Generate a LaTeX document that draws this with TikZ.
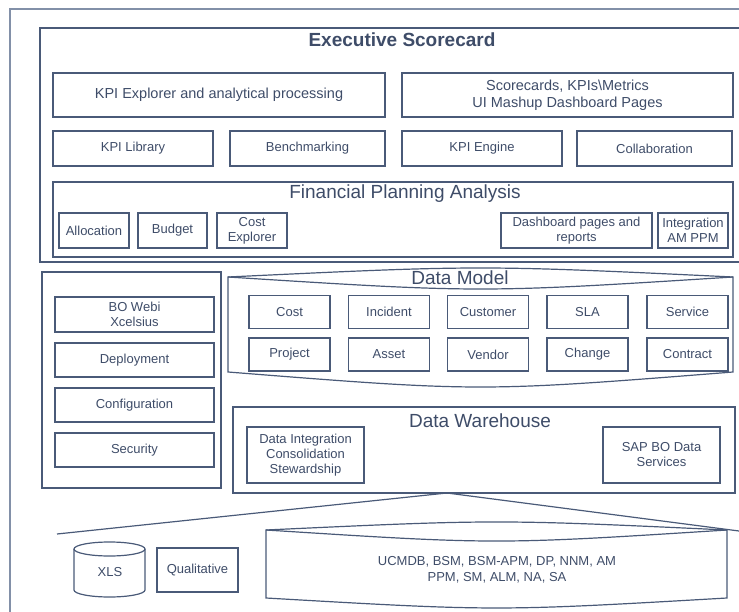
\documentclass[tikz,border=0pt]{standalone}
\usepackage{fontspec}
\setmainfont{Liberation Sans}
\definecolor{ink}{RGB}{62,76,104}
\definecolor{boxline}{RGB}{74,90,120}
\definecolor{frameline}{RGB}{130,144,168}
\tikzset{
	box/.style={draw=boxline, line width=1.2pt, text=ink, inner sep=0pt, align=center, font=\fontsize{13}{15}\selectfont},
	widebox/.style={box, font=\fontsize{14.5}{17}\selectfont},
	heading/.style={text=ink, inner sep=0pt, font=\fontsize{19}{22}\selectfont},
	shell/.style={draw=boxline, line width=1.2pt},
	frame/.style={draw=frameline, line width=2pt}
}
\begin{document}
\begin{tikzpicture}[x=1pt, y=-1pt]
	\useasboundingbox (0,0) rectangle (739,612);
	\clip (0,0) rectangle (739,612);
	\draw[frame] (10,9) rectangle (760,640);

	\draw[shell] (40,28) rectangle (760,262);
	\node[heading, font=\fontsize{19}{22}\selectfont\bfseries] (exec) at (402,40) {Executive Scorecard};
	\node[widebox, minimum width=332, minimum height=44] (explorer) at (219,95) {KPI Explorer and analytical processing};
	\node[widebox, minimum width=331, minimum height=44] (scorecards) at (567.5,95) {Scorecards, KPIs\textbackslash Metrics\\UI Mashup Dashboard Pages};
	\node[box, minimum width=160, minimum height=35] (library) at (133,148.5) {KPI Library};
	\node[box, minimum width=155, minimum height=35] (bench) at (307.5,148.5) {Benchmarking};
	\node[box, minimum width=160, minimum height=35] (engine) at (482,148.5) {KPI Engine};
	\node[box, minimum width=155, minimum height=35] (collab) at (654.5,148.5) {Collaboration};

	\node[box, minimum width=680, minimum height=75] (fpa) at (393,219.5) {};
	\node[heading] (fpatitle) at (405,194) {Financial Planning Analysis};
	\node[box, minimum width=70, minimum height=35] (alloc) at (94,230.5) {Allocation};
	\node[box, minimum width=69, minimum height=35] (budget) at (172.5,230.5) {Budget};
	\node[box, minimum width=70, minimum height=35] (costexp) at (252,230.5) {Cost\\Explorer};
	\node[box, minimum width=151, minimum height=35] (dashpages) at (576.5,230.5) {Dashboard pages and\\reports};
	\node[box, minimum width=70, minimum height=35] (integ) at (693,230.5) {Integration\\AM PPM};

	\node[box, minimum width=179, minimum height=216] (tools) at (131.5,380) {};
	\node[box, minimum width=159, minimum height=35] (webi) at (134.5,314.5) {BO Webi\\Xcelsius};
	\node[box, minimum width=159, minimum height=34] (deploy) at (134.5,360) {Deployment};
	\node[box, minimum width=159, minimum height=34] (config) at (134.5,405) {Configuration};
	\node[box, minimum width=159, minimum height=34] (security) at (134.5,450) {Security};

	\draw[shell] (228,277) .. controls (480.5,265) .. (733,277) -- (733,372) .. controls (480.5,392) .. (228,372) -- cycle;
	\draw[shell] (228,277) .. controls (480.5,293) .. (733,277);
	\node[heading] (dm) at (460,278) {Data Model};
	\node[box, minimum width=81, minimum height=33] (cost) at (289.5,312) {Cost};
	\node[box, minimum width=81, minimum height=33] (incident) at (389,312) {Incident};
	\node[box, minimum width=81, minimum height=33] (customer) at (488,312) {Customer};
	\node[box, minimum width=81, minimum height=33] (sla) at (587.5,312) {SLA};
	\node[box, minimum width=81, minimum height=33] (service) at (687.5,312) {Service};
	\node[box, minimum width=81, minimum height=33] (project) at (289.5,354.5) {Project};
	\node[box, minimum width=81, minimum height=33] (asset) at (389,354.5) {Asset};
	\node[box, minimum width=81, minimum height=33] (vendor) at (488,354.5) {Vendor};
	\node[box, minimum width=81, minimum height=33] (change) at (587.5,354.5) {Change};
	\node[box, minimum width=81, minimum height=33] (contract) at (687.5,354.5) {Contract};

	\node[box, minimum width=502, minimum height=86] (dw) at (484,450) {};
	\node[heading] (dwtitle) at (480,421) {Data Warehouse};
	\node[box, minimum width=117, minimum height=56] (dataint) at (305.5,455) {Data Integration\\Consolidation\\Stewardship};
	\node[box, minimum width=117, minimum height=56] (sapbo) at (661.5,455) {SAP BO Data\\Services};

	\coordinate (roof) at (447,493);
	\coordinate (roofleft) at (57,534);
	\coordinate (roofright) at (739,531);
	\draw[shell] (roofleft) -- (roof) -- (roofright);

	\draw[shell] (74,549) -- (74,590) arc[start angle=180, end angle=0, x radius=35.5, y radius=7] -- (145,549);
	\draw[shell] (109.5,549) ellipse [x radius=35.5, y radius=7];
	\node[text=ink, font=\fontsize{13}{15}\selectfont] (xls) at (110,572) {XLS};
	\node[box, minimum width=81, minimum height=44] (qual) at (197.5,570) {Qualitative};

	\draw[shell] (266,530) .. controls (496.5,519.3) .. (727,530) -- (727,598) .. controls (496.5,611.3) .. (266,598) -- cycle;
	\draw[shell] (266,530) .. controls (496.5,544.7) .. (727,530);
	\node[text=ink, align=center, font=\fontsize{13}{15.7}\selectfont] (sources) at (497,570) {UCMDB, BSM, BSM-APM, DP, NNM, AM\\PPM, SM, ALM, NA, SA};
\end{tikzpicture}
\end{document}
